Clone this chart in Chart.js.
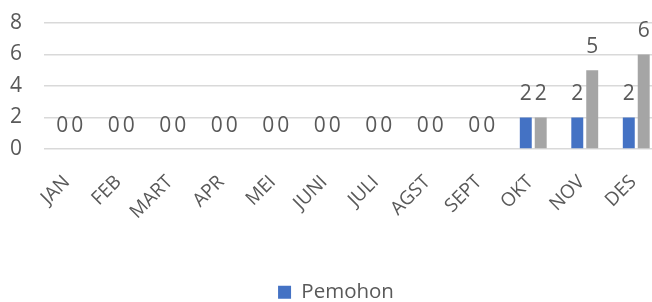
<!DOCTYPE html>
<html>
<head>
<meta charset="utf-8">
<script src="https://cdn.jsdelivr.net/npm/chart.js@4"></script>
<style>
  html, body { margin: 0; padding: 0; background: #fff; overflow: hidden; }
  #wrap { width: 678px; height: 302px; }
</style>
</head>
<body>
<div id="wrap"><canvas id="chart" width="678" height="302"></canvas></div>
<script>
const months = ["JAN", "FEB", "MART", "APR", "MEI", "JUNI", "JULI", "AGST", "SEPT", "OKT", "NOV", "DES"];
const pemohon = [0, 0, 0, 0, 0, 0, 0, 0, 0, 2, 2, 2];
const seri2 = [0, 0, 0, 0, 0, 0, 0, 0, 0, 2, 5, 6];
const yTicks = [0, 2, 4, 6, 8];

const textColor = "#595959";
Chart.defaults.font.family = "'Open Sans', 'DejaVu Sans', sans-serif";
Chart.defaults.color = textColor;

// draw the value above each bar
const valueLabels = {
  id: "valueLabels",
  afterDatasetsDraw(chart) {
    const ctx = chart.ctx;
    ctx.save();
    ctx.font = "21px 'Open Sans'";
    ctx.fillStyle = textColor;
    ctx.textAlign = "center";
    ctx.textBaseline = "middle";
    chart.data.datasets.forEach((ds, i) => {
      chart.getDatasetMeta(i).data.forEach((bar, j) => {
        ctx.fillText(ds.data[j], bar.x, bar.y - 23);
      });
    });
    ctx.restore();
  }
};

new Chart(document.getElementById("chart"), {
  type: "bar",
  data: {
    labels: months,
    datasets: [
      { label: "Pemohon", data: pemohon, backgroundColor: "#4472C4" },
      { label: "", data: seri2, backgroundColor: "#A5A5A5" }
    ]
  },
  options: {
    responsive: false,
    devicePixelRatio: 1,
    animation: false,
    categoryPercentage: 0.58,
    barPercentage: 0.8,
    layout: { padding: { top: 23, left: 10, right: 16, bottom: 0 } },
    plugins: {
      tooltip: { enabled: false },
      legend: {
        position: "bottom",
        maxHeight: 20,
        labels: {
          boxWidth: 13,
          boxHeight: 13,
          padding: 0,
          font: { size: 20.5 },
          color: textColor,
          filter: item => item.text === "Pemohon"
        }
      }
    },
    scales: {
      x: {
        grid: { display: false, drawTicks: false },
        border: { display: false },
        ticks: { minRotation: 45, maxRotation: 45, padding: 22, labelOffset: -3, font: { size: 19 }, color: textColor },
        afterFit: s => { s.height = 133; }
      },
      y: {
        min: 0,
        max: 8,
        afterBuildTicks: s => { s.ticks = yTicks.map(v => ({ value: v })); },
        grid: { color: "#D9D9D9", lineWidth: 1.5, drawTicks: false },
        border: { display: false },
        ticks: { padding: 0, crossAlign: "far", font: { size: 21 }, color: textColor },
        afterFit: s => { s.width = 34; }
      }
    }
  },
  plugins: [valueLabels]
});
</script>
</body>
</html>
